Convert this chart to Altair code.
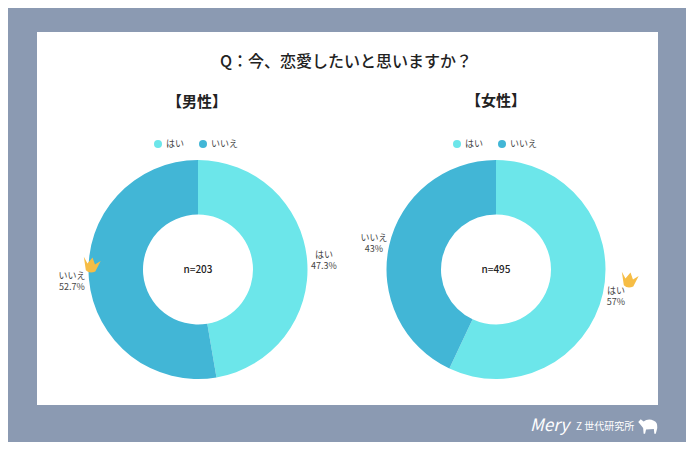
import altair as alt
import pandas as pd

FONT = "Noto Sans CJK JP"
CATS = ["はい", "いいえ"]
MALE = [47.3, 52.7]
FEMALE = [57, 43]
COLORS = ["#6ce6ea", "#42b6d6"]
BG = "#8b9ab2"
W, H = 678, 434
OX, OY = 8, 8
CROWN = "M-1,-0.9 L-0.45,-0.2 L0,-1 L0.42,-0.25 L1,-0.75 L0.6,0.55 Q0,0.95 -0.5,0.6 Z"
SHEEP = "M-1,-0.4 L-0.75,-0.7 L-0.45,-0.45 Q0,-0.8 0.6,-0.55 Q1,-0.4 0.95,0.2 L0.8,0.8 L0.65,0.8 L0.6,0.3 L-0.2,0.35 L-0.3,0.8 L-0.45,0.8 L-0.5,0.2 Q-0.75,-0.1 -1,-0.4 Z"

def P(px, py):
    return dict(x=alt.value(px - OX), y=alt.value(py - OY))

D = pd.DataFrame({"k": [0]})

def txt(t, px, py, size=9, color="#444444", weight="normal", align="center", **kw):
    return alt.Chart(D).mark_text(text=t, fontSize=size, color=color, font=FONT,
                                  fontWeight=weight, align=align, baseline="middle", **kw).encode(**P(px, py))

def label(cat, val, px, py):
    return alt.Chart(D).mark_text(text=[cat, f"{val}%"], lineHeight=11, fontSize=9, color="#444444",
                                  font=FONT, align="center", baseline="middle").encode(**P(px, py))

def donut(vals, cx, cy=269.5):
    df = pd.DataFrame({"c": CATS, "v": vals, "o": [0, 1]})
    return alt.Chart(df).mark_arc(innerRadius=55, outerRadius=109.5).encode(
        theta=alt.Theta("v:Q", stack=True, scale=alt.Scale(domain=[0, sum(vals)], range=[0, 6.28319])),
        order=alt.Order("o:Q"),
        color=alt.Color("c:N", scale=alt.Scale(domain=CATS, range=COLORS), legend=None),
        x=alt.value(cx - OX), y=alt.value(cy - OY))

def dot(px, py, col):
    return alt.Chart(D).mark_point(shape="circle", filled=True, size=64, color=col, opacity=1).encode(**P(px, py))

def crown(px, py):
    return alt.Chart(D).mark_point(shape=CROWN, filled=True, size=300, angle=10, color="#f6bd45", opacity=1).encode(**P(px, py))

panel = alt.Chart(D).mark_rect(color="white").encode(
    x=alt.value(37 - OX), x2=alt.value(658 - OX), y=alt.value(32 - OY), y2=alt.value(405 - OY))

layers = [panel,
    txt("Q：今、恋愛したいと思いますか？", 346, 62, 16, "#222222", 500),
    txt("【男性】", 197, 102, 15, "#222222", "bold"),
    txt("【女性】", 496, 101, 15, "#222222", "bold"),
    dot(158, 144, COLORS[0]), txt("はい", 166, 144, 9, align="left"),
    dot(203, 144, COLORS[1]), txt("いいえ", 211, 144, 9, align="left"),
    dot(457, 144, COLORS[0]), txt("はい", 465, 144, 9, align="left"),
    dot(502, 144, COLORS[1]), txt("いいえ", 510, 144, 9, align="left"),
    donut(MALE, 198), donut(FEMALE, 496),
    txt("n=203", 198, 270, 10, "#222222", 500),
    txt("n=495", 496, 270, 10, "#222222", 500),
    label(CATS[0], MALE[0], 324, 254.5),
    label(CATS[1], MALE[1], 72, 275.5),
    label(CATS[1], FEMALE[1], 374, 237.5),
    label(CATS[0], FEMALE[0], 616, 291),
    crown(91, 266), crown(629, 281),
    txt("Mery", 530, 426, 17, "white", align="left", fontStyle="italic"),
    txt("Z 世代研究所", 576, 427, 10, "white", align="left"),
    alt.Chart(D).mark_point(shape=SHEEP, filled=True, size=380, color="white", opacity=1).encode(**P(648, 426)),
]

chart = alt.layer(*layers).properties(
    width=W, height=H, background=BG, padding=0,
    autosize=alt.AutoSizeParams(type="none"),
).configure_view(stroke=None)

chart.save("out.html", embed_options={"renderer": "svg", "actions": False})
